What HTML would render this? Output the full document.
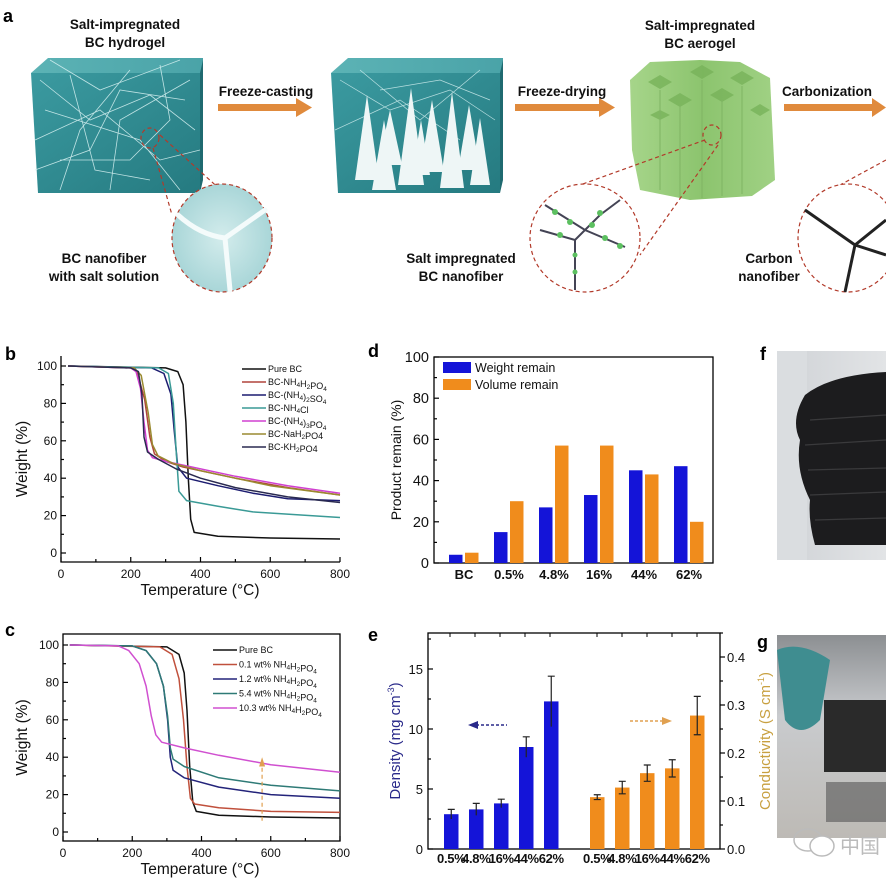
<!DOCTYPE html>
<html><head><meta charset="utf-8">
<style>
html,body{margin:0;padding:0;background:#fff;}
svg{display:block;font-family:"Liberation Sans",Arial,sans-serif;}
.ax{stroke:#000;stroke-width:1.3;fill:none}
.tk{font-size:12px;fill:#111}
.lg{font-size:9px;fill:#111}
.al{font-family:"Liberation Sans",sans-serif;font-weight:bold;font-size:13px;fill:#111}
.pl{font-weight:bold;font-size:18px;fill:#000}
</style></head><body>
<svg id="s" width="886" height="882" viewBox="0 0 886 882" xmlns="http://www.w3.org/2000/svg">
<defs>
<linearGradient id="teal" x1="0" y1="0" x2="1" y2="1"><stop offset="0" stop-color="#3b9aa0"/><stop offset="1" stop-color="#257a80"/></linearGradient>
<linearGradient id="tealtop" x1="0" y1="0" x2="1" y2="0"><stop offset="0" stop-color="#5cb3b5"/><stop offset="1" stop-color="#4aa3a8"/></linearGradient>
<linearGradient id="green" x1="0" y1="0" x2="1" y2="0"><stop offset="0" stop-color="#a6d58a"/><stop offset="0.5" stop-color="#8cc46e"/><stop offset="1" stop-color="#a0d184"/></linearGradient>
<radialGradient id="circ1"><stop offset="0" stop-color="#d3ecec"/><stop offset="1" stop-color="#a9d6d8"/></radialGradient>
<linearGradient id="photoF" x1="0" y1="0" x2="1" y2="0"><stop offset="0" stop-color="#cfd2d6"/><stop offset="1" stop-color="#e2e4e6"/></linearGradient>
<linearGradient id="photoG" x1="0" y1="0" x2="0" y2="1"><stop offset="0" stop-color="#8c8f92"/><stop offset="0.4" stop-color="#c9cbce"/><stop offset="1" stop-color="#bdbab5"/></linearGradient>
</defs>

<text x="3" y="22" class="pl">a</text>
<g font-weight="bold" font-size="13.5" fill="#111" text-anchor="middle">
<text x="125" y="29">Salt-impregnated</text><text x="125" y="47">BC hydrogel</text>
<text x="700" y="30">Salt-impregnated</text><text x="700" y="48">BC aerogel</text>
<text x="266" y="96">Freeze-casting</text>
<text x="562" y="96">Freeze-drying</text>
<text x="782" y="96" text-anchor="start">Carbonization</text>
<text x="104" y="263">BC nanofiber</text><text x="104" y="281">with salt solution</text>
<text x="461" y="263">Salt impregnated</text><text x="461" y="281">BC nanofiber</text>
<text x="769" y="263">Carbon</text><text x="769" y="281">nanofiber</text>
</g>
<g fill="#e08a3c">
<rect x="218" y="104" width="80" height="7"/><polygon points="296,98 312,107.5 296,117"/>
<rect x="515" y="104" width="86" height="7"/><polygon points="599,98 615,107.5 599,117"/>
<rect x="784" y="104" width="90" height="7"/><polygon points="872,98 886,107.5 872,117"/>
</g>
<polygon points="31,73 48,58 203,58 203,75" fill="url(#tealtop)"/>
<polygon points="31,73 203,73 200,193 38,193" fill="url(#teal)"/>
<polygon points="200,73 203,60 203,180 200,193" fill="#1f6a70"/>
<g stroke="#d8f2f2" stroke-width="0.8" fill="none" opacity="0.85">
<path d="M40,80 L90,120 L150,95 L195,130 M35,140 L100,110 L160,160 L200,150 M60,190 L80,130 L130,70 M110,190 L120,120 L190,80 M45,110 L140,140 L180,190 M70,75 L95,170 L150,180 M160,65 L170,120 L130,160 L60,160 M35,170 L90,150 L120,90 L185,100 M50,60 L100,90 L180,60"/>
</g>
<polygon points="331,73 348,58 503,58 503,75" fill="url(#tealtop)"/>
<polygon points="331,73 503,73 500,193 338,193" fill="url(#teal)"/>
<polygon points="500,73 503,60 503,180 500,193" fill="#1f6a70"/>
<g stroke="#d8f2f2" stroke-width="0.7" fill="none" opacity="0.8">
<path d="M340,80 L390,110 L450,90 L495,120 M335,130 L400,100 L460,140 M360,70 L420,120 L480,70 M380,90 L440,80 L490,100"/>
</g>
<g fill="#eef6f6">
<polygon points="355,180 367,95 379,180"/><polygon points="378,165 390,110 402,165"/><polygon points="398,185 411,88 424,185"/>
<polygon points="420,172 432,100 444,172"/><polygon points="440,188 452,92 464,188"/><polygon points="458,170 469,105 480,170"/>
<polygon points="372,190 384,120 396,190"/><polygon points="412,175 421,120 430,175"/><polygon points="470,185 480,118 490,185"/>
</g>
<polygon points="630,80 650,62 700,60 740,62 770,78 775,180 752,196 690,200 640,190 632,150" fill="url(#green)"/>
<g fill="#78b35a" opacity="0.8">
<polygon points="648,82 660,75 672,82 660,89"/><polygon points="690,72 702,65 714,72 702,79"/><polygon points="730,78 742,71 754,78 742,85"/>
<polygon points="668,100 680,93 692,100 680,107"/><polygon points="710,95 722,88 734,95 722,102"/><polygon points="650,115 660,110 670,115 660,120"/>
<polygon points="750,110 760,104 770,110 760,116"/>
</g>
<g stroke="#7fb463" stroke-width="1" fill="none"><path d="M660,90 L660,190 M680,105 L680,198 M702,80 L702,198 M722,100 L722,196 M742,86 L742,194"/></g>
<g stroke="#b23a2a" stroke-width="1.2" stroke-dasharray="4,3" fill="none">
<ellipse cx="150" cy="138" rx="9" ry="10"/>
<path d="M153,148 L172,215 M160,135 L265,230"/>
<ellipse cx="712" cy="135" rx="9" ry="10"/>
<path d="M705,140 L580,185 M718,145 L640,255"/>
<path d="M886,160 L840,185"/>
</g>
<ellipse cx="222" cy="238" rx="50" ry="54" fill="url(#circ1)" stroke="#b23a2a" stroke-width="1.2" stroke-dasharray="4,3"/>
<g stroke="#f4fbfb" stroke-width="5" fill="none" stroke-linecap="round"><path d="M178,215 Q200,235 225,238 L265,210 M225,238 L230,290"/></g>
<ellipse cx="585" cy="238" rx="55" ry="54" fill="#fff" stroke="#b23a2a" stroke-width="1.2" stroke-dasharray="4,3"/>
<g stroke="#445" stroke-width="2" fill="none"><path d="M545,205 L585,230 L625,247 M585,230 L600,215 L620,200 M585,230 L575,240 L540,230 M575,240 L575,290"/></g>
<g fill="#5cc060"><circle cx="555" cy="212" r="3"/><circle cx="570" cy="222" r="3"/><circle cx="592" cy="225" r="3"/><circle cx="605" cy="238" r="3"/><circle cx="620" cy="246" r="3"/><circle cx="600" cy="213" r="3"/><circle cx="560" cy="235" r="3"/><circle cx="575" cy="255" r="2.5"/><circle cx="575" cy="272" r="2.5"/></g>
<ellipse cx="848" cy="238" rx="50" ry="54" fill="#fff" stroke="#b23a2a" stroke-width="1.2" stroke-dasharray="4,3"/>
<g stroke="#222" stroke-width="3" fill="none"><path d="M805,210 L855,245 L886,220 M855,245 L845,292 M855,245 L886,255"/></g>

<text x="760" y="360" class="pl">f</text>
<rect x="777" y="351" width="109" height="209" fill="url(#photoF)"/>
<rect x="777" y="351" width="30" height="209" fill="#dadde0"/>
<path d="M805,395 Q830,375 886,372 L886,545 L815,545 Q808,520 810,500 Q795,470 800,440 Q790,420 805,395Z" fill="#1c1c1e"/>
<g stroke="#3a3a3c" stroke-width="1.2" fill="none"><path d="M810,420 L886,415 M805,445 L886,440 M808,470 L886,468 M810,495 L886,492 M815,520 L886,518"/></g>
<text x="757" y="648" class="pl">g</text>
<rect x="777" y="635" width="109" height="203" fill="url(#photoG)"/>
<path d="M777,650 Q800,640 830,660 L820,720 Q800,740 785,720 Z" fill="#3f8d90"/>
<rect x="824" y="700" width="62" height="72" fill="#2a2a2a"/>
<rect x="826" y="782" width="60" height="40" fill="#555" opacity="0.6"/>
<ellipse cx="808" cy="840" rx="14" ry="11" fill="none" stroke="#bbb" stroke-width="1.5"/>
<ellipse cx="822" cy="846" rx="12" ry="10" fill="#fff" stroke="#bbb" stroke-width="1.5"/>
<text x="840" y="853" font-size="20" fill="#bbb" font-family="'Noto Sans CJK SC',sans-serif">中国</text>

<text x="5" y="360" class="pl">b</text>
<g id="b"></g>
<text x="5" y="636" class="pl">c</text>
<g id="c"></g>
<text x="368" y="357" class="pl">d</text>
<g id="d"></g>
<text x="368" y="641" class="pl">e</text>
<g id="e"></g>
</svg>
<script>
var NS="http://www.w3.org/2000/svg";
function el(p,t,a,txt){var e=document.createElementNS(NS,t);for(var k in a)e.setAttribute(k,a[k]);if(txt!==undefined)e.textContent=txt;p.appendChild(e);return e;}
function smooth(pts,X,Y){var d="";for(var i=0;i<pts.length;i++){d+=(i?"L":"M")+X(pts[i][0]).toFixed(1)+","+Y(pts[i][1]).toFixed(1);}return d;}
function tga(g,o){
  var X=function(t){return o.x0+(t/800)*(o.x1-o.x0)},Y=function(w){return o.y0-(w/100)*(o.y0-o.y100)};
  if(o.box)el(g,"rect",{x:o.x0,y:o.top,width:o.x1-o.x0,height:o.bot-o.top,class:"ax"});
  else el(g,"path",{d:"M"+o.x0+","+o.top+"V"+o.bot+"H"+o.x1,class:"ax"});
  for(var t=0;t<=800;t+=100){var big=t%200==0;el(g,"line",{x1:X(t),x2:X(t),y1:o.bot,y2:o.bot-(big?5:3),stroke:"#000","stroke-width":1.2});
    if(big)el(g,"text",{x:X(t),y:o.bot+16,"text-anchor":"middle",class:"tk"},t);}
  for(var w=0;w<=100;w+=10){var big=w%20==0;el(g,"line",{x1:o.x0,x2:o.x0+(big?5:3),y1:Y(w),y2:Y(w),stroke:"#000","stroke-width":1.2});
    if(big)el(g,"text",{x:o.x0-4,y:Y(w)+4,"text-anchor":"end",class:"tk"},w);}
  el(g,"text",{x:200,y:o.bot+33,"text-anchor":"middle","font-size":15.5,fill:"#111"},"Temperature (\u00B0C)");
  el(g,"text",{x:0,y:0,"text-anchor":"middle","font-size":15.5,fill:"#111",transform:"translate(27,"+((o.top+o.bot)/2)+") rotate(-90)"},"Weight (%)");
  o.series.forEach(function(s,i){
    el(g,"path",{d:smooth(s.p,X,Y),fill:"none",stroke:s.c,"stroke-width":1.5,"stroke-linejoin":"round"});
    var ly=o.ly+i*o.ld;
    el(g,"line",{x1:o.lx,x2:o.lx+24,y1:ly,y2:ly,stroke:s.c,"stroke-width":1.6});
    var t=el(g,"text",{x:o.lx+26,y:ly+3,class:"lg"});t.innerHTML=s.n;
  });
}
function sub(x){return '<tspan font-size="6.5" dy="2">'+x+'</tspan><tspan dy="-2"></tspan>';}
tga(document.getElementById("b"),{box:false,x0:61,x1:340,y0:553,y100:366,top:356,bot:562,lx:242,ly:369,ld:13,series:[
 {n:"Pure BC",c:"#111",p:[[20,100],[300,99],[335,97],[350,90],[358,70],[365,40],[372,18],[382,11],[450,9],[600,8],[800,7.5]]},
 {n:"BC-NH"+sub(4)+"H"+sub(2)+"PO"+sub(4),c:"#b0443c",p:[[20,100],[200,99],[218,97],[240,82],[255,62],[268,53],[300,49],[350,46],[500,40],[650,35],[800,31]]},
 {n:"BC-(NH"+sub(4)+")"+sub(2)+"SO"+sub(4),c:"#1c1c70",p:[[20,100],[260,99],[295,96],[315,85],[325,65],[335,46],[360,40],[450,36],[550,32],[650,29],[800,28]]},
 {n:"BC-NH"+sub(4)+"Cl",c:"#3a9a96",p:[[20,100],[280,99],[308,96],[322,80],[330,55],[338,33],[360,28],[450,25],[550,22],[800,19]]},
 {n:"BC-(NH"+sub(4)+")"+sub(3)+"PO"+sub(4),c:"#d040d0",p:[[20,100],[200,99],[215,97],[228,88],[238,70],[248,55],[262,51],[300,49],[350,47],[500,41],[650,36],[800,32]]},
 {n:"BC-NaH"+sub(2)+"PO4",c:"#9a8a30",p:[[20,100],[210,99],[230,95],[250,75],[262,58],[278,52],[320,48],[400,44],[600,36],[800,31]]},
 {n:"BC-KH"+sub(2)+"PO4",c:"#2a2a50",p:[[20,100],[200,99],[222,97],[232,85],[238,62],[248,54],[280,50],[330,45],[400,40],[500,35],[650,30],[800,27]]}
]});
tga(document.getElementById("c"),{box:true,x0:63,x1:340,y0:832,y100:645,top:634,bot:841,lx:213,ly:650,ld:14.5,series:[
 {n:"Pure BC",c:"#111",p:[[20,100],[300,99],[335,95],[350,85],[358,65],[366,35],[375,16],[385,11],[450,9],[600,8],[800,7.5]]},
 {n:"0.1 wt% NH"+sub(4)+"H"+sub(2)+"PO"+sub(4),c:"#c0503c",p:[[20,100],[280,99],[315,95],[335,82],[348,60],[358,35],[368,18],[380,15],[450,13],[600,11],[800,10.5]]},
 {n:"1.2 wt% NH"+sub(4)+"H"+sub(2)+"PO"+sub(4),c:"#23237a",p:[[20,100],[200,99.5],[240,97],[270,90],[290,78],[302,60],[310,40],[318,33],[350,29],[450,24],[600,20],[800,18]]},
 {n:"5.4 wt% NH"+sub(4)+"H"+sub(2)+"PO"+sub(4),c:"#2e7a76",p:[[20,100],[200,99.5],[240,97],[270,90],[290,78],[302,62],[310,45],[318,39],[350,35],[450,29],[600,25],[800,22]]},
 {n:"10.3 wt% NH"+sub(4)+"H"+sub(2)+"PO"+sub(4),c:"#d050d0",p:[[20,100],[160,99.5],[190,97],[220,90],[240,78],[255,62],[268,52],[285,48],[350,45],[450,41],[600,36],[800,32]]}
]});
(function(){var g=document.getElementById("c");var X=function(t){return 63+t/800*277},Y=function(w){return 832-w*1.87};
 el(g,"line",{x1:X(575),x2:X(575),y1:Y(6),y2:Y(36),stroke:"#e0a050","stroke-width":1.2,"stroke-dasharray":"4,3"});
 el(g,"polygon",{points:(X(575)-3)+","+Y(35)+" "+(X(575)+3)+","+Y(35)+" "+X(575)+","+Y(40),fill:"#e0a050"});})();

(function(){var g=document.getElementById("d");var L=434,R=713,T=357,B=563;var Y=function(v){return B-v*(B-T)/100};
 el(g,"rect",{x:L,y:T,width:R-L,height:B-T,class:"ax"});
 for(var v=0;v<=100;v+=10){var big=v%20==0;el(g,"line",{x1:L,x2:L+(big?5:3),y1:Y(v),y2:Y(v),stroke:"#000","stroke-width":1.2});
   if(big)el(g,"text",{x:L-5,y:Y(v)+5,"text-anchor":"end","font-size":14.5,fill:"#111"},v);}
 el(g,"text",{x:0,y:0,"text-anchor":"middle","font-size":14,fill:"#111",transform:"translate(401,460) rotate(-90)"},"Product remain (%)");
 var bl=[4,15,27,33,45,47],or=[5,30,57,57,43,20],lab=["BC","0.5%","4.8%","16%","44%","62%"];
 for(var i=0;i<6;i++){var x=449+i*45;
  el(g,"rect",{x:x,y:Y(bl[i]),width:13.5,height:B-Y(bl[i]),fill:"#1414d8"});
  el(g,"rect",{x:x+16,y:Y(or[i]),width:13.5,height:B-Y(or[i]),fill:"#f08c1c"});
  el(g,"text",{x:x+15,y:579,"text-anchor":"middle",class:"al","font-size":9.5},lab[i]);}
 el(g,"rect",{x:443,y:362,width:28,height:11,fill:"#1414d8"});
 el(g,"rect",{x:443,y:379,width:28,height:11,fill:"#f08c1c"});
 el(g,"text",{x:475,y:372,"font-size":12.5,fill:"#111"},"Weight remain");
 el(g,"text",{x:475,y:389,"font-size":12.5,fill:"#111"},"Volume remain");
})();
(function(){var g=document.getElementById("e");var L=428,R=720,T=633,B=849;
 var Y=function(v){return B-v*12},Y2=function(v){return B-v*480};
 el(g,"rect",{x:L,y:T,width:R-L,height:B-T,class:"ax"});
 for(var v=0;v<=17.5;v+=2.5){var big=v%5==0;el(g,"line",{x1:L,x2:L+(big?5:3),y1:Y(v),y2:Y(v),stroke:"#000","stroke-width":1.2});
   if(big)el(g,"text",{x:L-5,y:Y(v)+5,"text-anchor":"end","font-size":13,fill:"#111"},v);}
 for(var v=0;v<=0.45;v+=0.05){var vv=Math.round(v*100)/100;var big=Math.round(vv*100)%10==0;
   el(g,"line",{x1:R,x2:R+(big?5:3),y1:Y2(vv),y2:Y2(vv),stroke:"#000","stroke-width":1.2});
   if(big)el(g,"text",{x:R+7,y:Y2(vv)+5,"font-size":13,fill:"#111"},vv.toFixed(1));}
 [443,468,493,518,543,590,615,640,665,690].forEach(function(x){el(g,"line",{x1:x+7,x2:x+7,y1:T,y2:T+4,stroke:"#000"});});
 var t=el(g,"text",{x:0,y:0,"text-anchor":"middle","font-size":15,fill:"#2a2a8a",transform:"translate(400,741) rotate(-90)"});
 t.innerHTML='Density (mg cm<tspan font-size="9" dy="-6">-3</tspan><tspan dy="6">)</tspan>';
 var t2=el(g,"text",{x:0,y:0,"text-anchor":"middle","font-size":15,fill:"#c8a040",transform:"translate(770,741) rotate(-90)"});
 t2.innerHTML='Conductivity (S cm<tspan font-size="9" dy="-6">-1</tspan><tspan dy="6">)</tspan>';
 var d=[2.9,3.3,3.8,8.5,12.3],de=[0.4,0.5,0.35,0.85,2.1],c=[0.108,0.128,0.158,0.168,0.278],ce=[0.005,0.013,0.017,0.018,0.04],lab=["0.5%","4.8%","16%","44%","62%"];
 for(var i=0;i<5;i++){var x=444+i*25;
  el(g,"rect",{x:x,y:Y(d[i]),width:14.5,height:B-Y(d[i]),fill:"#1414d8"});
  var cx=x+7.25;el(g,"path",{d:"M"+cx+","+Y(d[i]+de[i])+"V"+Y(d[i]-de[i])+"M"+(cx-3.5)+","+Y(d[i]+de[i])+"h7",stroke:"#222","stroke-width":1.2});
  el(g,"text",{x:cx,y:863,"text-anchor":"middle",class:"al","font-size":8,"letter-spacing":"-0.3"},lab[i]);
  var x2=590+i*25;
  el(g,"rect",{x:x2,y:Y2(c[i]),width:14.5,height:B-Y2(c[i]),fill:"#f08c1c"});
  var cx2=x2+7.25;el(g,"path",{d:"M"+cx2+","+Y2(c[i]+ce[i])+"V"+Y2(c[i]-ce[i])+"M"+(cx2-3.5)+","+Y2(c[i]+ce[i])+"h7M"+(cx2-3.5)+","+Y2(c[i]-ce[i])+"h7",stroke:"#222","stroke-width":1.2});
  el(g,"text",{x:cx2,y:863,"text-anchor":"middle",class:"al","font-size":8,"letter-spacing":"-0.3"},lab[i]);}
 el(g,"line",{x1:476,x2:507,y1:725,y2:725,stroke:"#2a2a8a","stroke-width":1.4,"stroke-dasharray":"3,2"});
 el(g,"polygon",{points:"468,725 478,721 478,729",fill:"#2a2a8a"});
 el(g,"line",{x1:630,x2:664,y1:721,y2:721,stroke:"#e0a050","stroke-width":1.4,"stroke-dasharray":"3,2"});
 el(g,"polygon",{points:"672,721 662,717 662,725",fill:"#e0a050"});
})();
</script>
</body></html>
